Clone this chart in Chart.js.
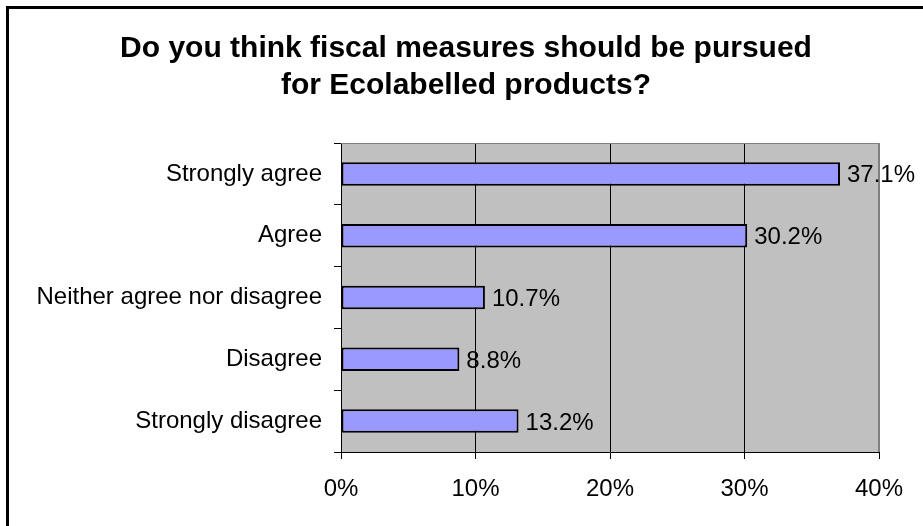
<!DOCTYPE html>
<html>
<head>
<meta charset="utf-8">
<title>Fiscal measures for Ecolabelled products</title>
<script src="https://cdn.jsdelivr.net/npm/chart.js@4.4.1/dist/chart.umd.min.js"></script>
<style>
    html, body { margin: 0; padding: 0; background: #fff; overflow: hidden; }
    #wrap { position: relative; width: 923px; height: 526px; }
    #frame {
        position: absolute; left: 6px; top: 6px;
        width: 2000px; height: 2000px;
        border-left: 3px solid #000; border-top: 3px solid #000;
        pointer-events: none;
    }
</style>
</head>
<body>
<div id="wrap">
    <canvas id="surveyChart"></canvas>
    <div id="frame"></div>
</div>
<script>
/* ============================================
   DATA
============================================ */
const categories = [
    'Strongly agree',
    'Agree',
    'Neither agree nor disagree',
    'Disagree',
    'Strongly disagree'
];
const shares = [37.1, 30.2, 10.7, 8.8, 13.2];
const axisTicks = [0, 10, 20, 30, 40];
const titleLines = [
    'Do you think fiscal measures should be pursued',
    'for Ecolabelled products?'
];

const FONT = "'Liberation Sans', Arial, sans-serif";

/* ============================================
   TITLE (centred on the whole frame, not the plot)
============================================ */
const frameTitle = {
    id: 'frameTitle',
    afterDraw(chart, args, opts) {
        const { ctx } = chart;
        ctx.save();
        ctx.fillStyle = '#000';
        ctx.font = 'bold 30px ' + FONT;
        ctx.textAlign = 'center';
        ctx.textBaseline = 'alphabetic';
        opts.lines.forEach((line, i) => {
            ctx.fillText(line, opts.centerX, opts.firstBaseline + i * opts.lineGap);
        });
        ctx.restore();
    }
};

/* ============================================
   PLOT BACKGROUND + FRAME
============================================ */
const plotBackground = {
    id: 'plotBackground',
    beforeDraw(chart) {
        const { ctx, chartArea: a } = chart;
        ctx.save();
        ctx.fillStyle = '#c0c0c0';
        ctx.fillRect(a.left, a.top, a.right - a.left, a.bottom - a.top);
        ctx.restore();
    },
    beforeDatasetsDraw(chart) {
        const { ctx, chartArea: a } = chart;
        ctx.save();
        ctx.strokeStyle = '#808080';
        ctx.lineWidth = 1;
        ctx.beginPath();
        ctx.moveTo(a.left, a.top + 0.5);
        ctx.lineTo(a.right - 0.5, a.top + 0.5);
        ctx.lineTo(a.right - 0.5, a.bottom);
        ctx.stroke();
        ctx.restore();
    }
};

/* ============================================
   VALUE LABELS AT BAR ENDS
============================================ */
const valueLabels = {
    id: 'valueLabels',
    afterDatasetsDraw(chart) {
        const { ctx } = chart;
        const meta = chart.getDatasetMeta(0);
        ctx.save();
        ctx.fillStyle = '#000';
        ctx.font = '24px ' + FONT;
        ctx.textAlign = 'left';
        ctx.textBaseline = 'alphabetic';
        meta.data.forEach((bar, i) => {
            const v = chart.data.datasets[0].data[i];
            ctx.fillText(v.toFixed(1) + '%', bar.x + 7, bar.y + 8.5);
        });
        ctx.restore();
    }
};

/* ============================================
   CHART
============================================ */
function initChart() {
    const canvas = document.getElementById('surveyChart');

    new Chart(canvas.getContext('2d'), {
        type: 'bar',
        data: {
            labels: categories,
            datasets: [{
                data: shares,
                backgroundColor: '#9999ff',
                borderColor: '#000',
                borderWidth: 2,
                borderSkipped: false,
                categoryPercentage: 1,
                barPercentage: 0.38
            }]
        },
        options: {
            indexAxis: 'y',
            responsive: true,
            maintainAspectRatio: false,
            animation: false,
            layout: {
                padding: { top: 143, left: 0, right: 44, bottom: 0 }
            },
            plugins: {
                legend: { display: false },
                tooltip: { enabled: false },
                title: { display: false },
                frameTitle: {
                    lines: titleLines,
                    centerX: 466,
                    firstBaseline: 57,
                    lineGap: 37
                }
            },
            scales: {
                x: {
                    min: 0,
                    max: 40,
                    afterBuildTicks: axis => {
                        axis.ticks = axisTicks.map(v => ({ value: v }));
                    },
                    afterFit: axis => { axis.height = 74; },
                    ticks: {
                        color: '#000',
                        font: { family: FONT, size: 24 },
                        padding: 16,
                        maxRotation: 0,
                        callback: v => v + '%'
                    },
                    grid: {
                        color: ctx => ctx.index === axisTicks.length - 1 ? '#808080' : '#000',
                        tickColor: '#000',
                        lineWidth: 1,
                        tickLength: 7
                    },
                    border: { color: '#000', width: 1 }
                },
                y: {
                    afterFit: axis => { axis.width = 341; },
                    ticks: {
                        color: '#000',
                        font: { family: FONT, size: 24 },
                        padding: 12,
                        autoSkip: false
                    },
                    grid: {
                        drawOnChartArea: false,
                        color: '#000',
                        tickLength: 7
                    },
                    border: { color: '#000', width: 1 }
                }
            }
        },
        plugins: [plotBackground, valueLabels, frameTitle]
    });
}

document.addEventListener('DOMContentLoaded', initChart);
</script>
</body>
</html>
